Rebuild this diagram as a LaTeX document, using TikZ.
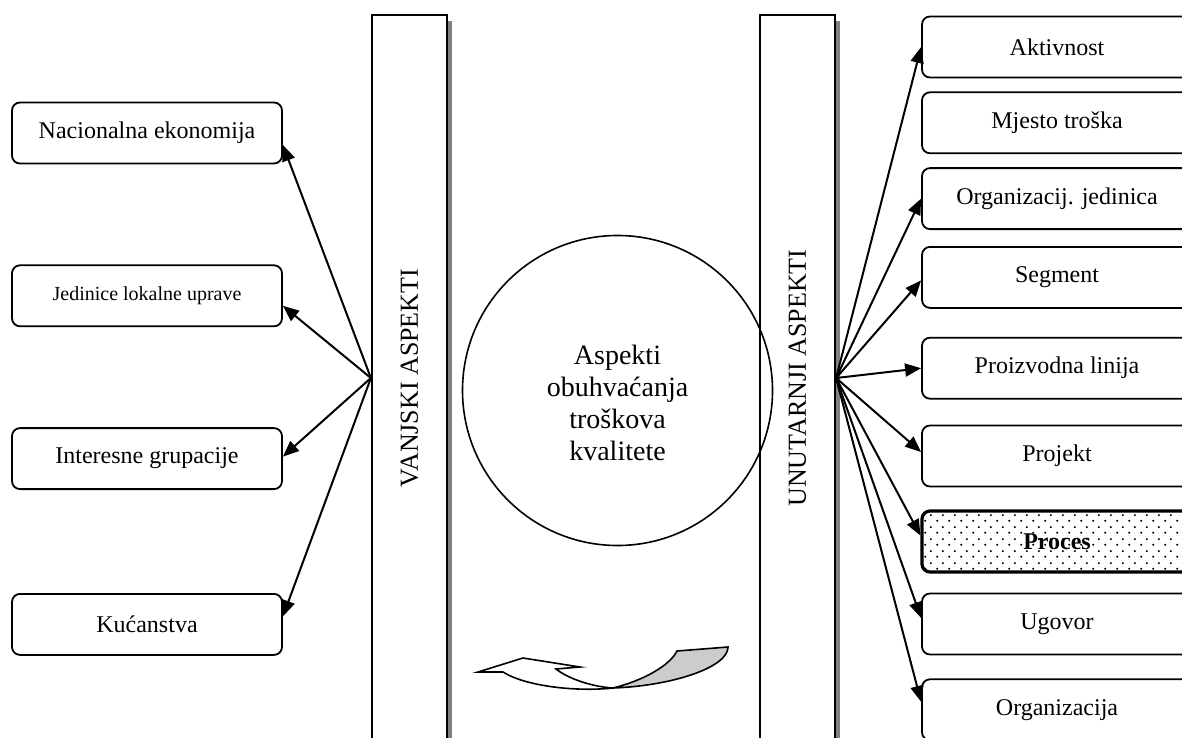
\documentclass[tikz,border=0pt]{standalone}
\usepackage{fontspec}
\setmainfont{Liberation Serif}
\usepackage{graphicx}
\usepackage{tikz}
\usetikzlibrary{arrows.meta,positioning,shadows,patterns.meta}
\tikzdeclarepattern{
  name=procdots, type=uncolored,
  bounding box={(0pt,0pt) and (6pt,6pt)},
  tile size={(6pt,6pt)},
  code={\fill (0.7pt,0.7pt) circle (0.6pt); \fill (3.7pt,3.7pt) circle (0.6pt);}
}

\begin{document}
\begin{tikzpicture}[x=0.5pt, y=-0.5pt,
    node distance=6.5pt,
    box/.style={draw, line width=0.9pt, rounded corners=4pt, fill=white,
      minimum width=135pt, minimum height=30.5pt, inner sep=0pt,
      font=\fontsize{12}{14}\selectfont},
    pillar/.style={draw, line width=1.1pt, fill=white, minimum width=37.5pt,
      minimum height=363pt, inner sep=0pt, font=\fontsize{13}{15}\selectfont,
      drop shadow={shadow xshift=2.5pt, shadow yshift=-3pt, fill=black!50, opacity=1}},
    arrow/.style={-{Triangle[length=8pt,width=6.5pt]}, line width=1pt}
  ]
    \useasboundingbox (0,0) rectangle (1182,738);
    \node[pillar] (vanj) at (409.5,378) {\rotatebox{90}{VANJSKI ASPEKTI}};
    \node[pillar] (unut) at (797.5,378) {\rotatebox{90}{UNUTARNJI ASPEKTI}};
    \node[draw, circle, line width=0.8pt, minimum size=155pt] (asp) at (617.5,390.5) {};
    \node[align=center, font=\fontsize{14}{16}\selectfont] (asptxt) at ([yshift=-6pt]asp.center)
      {Aspekti\\obuhvaćanja\\troškova\\kvalitete};
    \node[box] (nac) at (147,133) {Nacionalna ekonomija};
    \node[box, below=50pt of nac, font=\fontsize{10}{12}\selectfont] (jed) {Jedinice lokalne uprave};
    \node[box, below=50pt of jed] (int) {Interesne grupacije};
    \node[box, below=51.5pt of int] (kuc) {Kućanstva};
    \node[box] (akt) at (1057,47) {Aktivnost};
    \node[box, below=of akt] (mje) {Mjesto troška};
    \node[box, below=6.5pt of mje] (org) {Organizacij. jedinica};
    \node[box, below=8pt of org] (seg) {Segment};
    \node[box, below=14pt of seg] (pro) {Proizvodna linija};
    \node[box, below=12.5pt of pro] (prj) {Projekt};
    \node[box, below=11pt of prj, line width=1.6pt, pattern=procdots, pattern color=black,
      font=\bfseries\fontsize{12}{14}\selectfont] (prc) {Proces};
    \node[box, below=9.5pt of prc] (ugo) {Ugovor};
    \node[box, below=11.5pt of ugo] (orz) {Organizacija};
    \draw[arrow] (vanj.west) -- ([yshift=-6pt]nac.east);
    \draw[arrow] (vanj.west) -- ([yshift=-5pt]jed.east);
    \draw[arrow] (vanj.west) -- ([yshift=1pt]int.east);
    \draw[arrow] (vanj.west) -- ([yshift=4pt]kuc.east);
    \draw[arrow] (unut.east) -- (akt.west);
    \draw[arrow] (unut.east) -- (org.west);
    \draw[arrow] (unut.east) -- ([yshift=-1.5pt]seg.west);
    \draw[arrow] (unut.east) -- (pro.west);
    \draw[arrow] (unut.east) -- ([yshift=2pt]prj.west);
    \draw[arrow] (unut.east) -- ([yshift=3pt]prc.west);
    \draw[arrow] (unut.east) -- ([yshift=3pt]ugo.west);
    \draw[arrow] (unut.east) -- ([yshift=4pt]orz.west);
    \draw[line width=0.8pt, fill=white] (478,672) -- (523,658) -- (580,667) -- (556,669)
      .. controls (570,680) and (595,687) .. (613,688)
      .. controls (575,692) and (525,686) .. (503,672) -- cycle;
    \draw[line width=0.8pt, fill=black!20] (613,688) .. controls (645,680) and (670,665) .. (677,651)
      -- (728,647) .. controls (728,668) and (670,686) .. (613,688) -- cycle;
  \end{tikzpicture}
\end{document}
